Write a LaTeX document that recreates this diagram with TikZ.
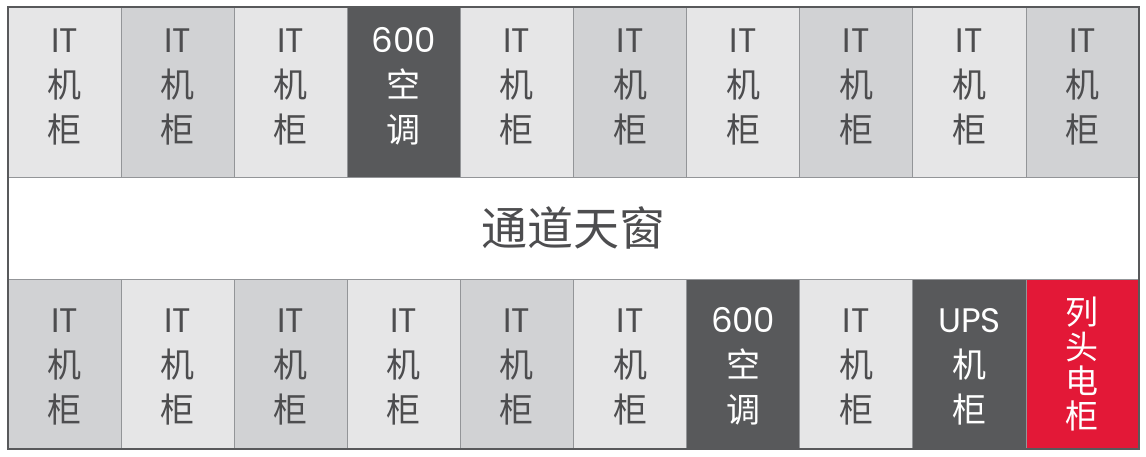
\documentclass[tikz,border=0pt]{standalone}
\usepackage{fontspec}
\setmainfont{Poppins}
\newfontfamily\cjk{Noto Sans CJK SC}
\definecolor{rackA}{HTML}{E6E6E7}
\definecolor{rackB}{HTML}{D1D2D4}
\definecolor{acgray}{HTML}{58595B}
\definecolor{pdured}{HTML}{E31837}
\definecolor{inkgray}{HTML}{4D4D4F}
\definecolor{linegray}{HTML}{939598}

\begin{document}
\begin{tikzpicture}
    [x=1pt,y=-1pt,
     cell/.style={rectangle,draw=linegray,line width=0.8pt,minimum width=113.1pt,minimum height=170pt,
       inner sep=0pt,align=center,text=inkgray,font=\fontsize{34}{45}\selectfont},
     lite/.style={cell,fill=rackA},
     mid/.style={cell,fill=rackB},
     dark/.style={cell,fill=acgray,text=white},
     pdu/.style={cell,fill=pdured,text=white,font=\fontsize{33}{34.5}\selectfont},
     uprow/.style={text height=110pt,text depth=9pt},
     lowrow/.style={text height=124pt,text depth=7pt}]
    \useasboundingbox (0,0) rectangle (1146,456);
    % top row
    \node[lite,uprow] (t1) at (64.55,92) {IT\\\cjk 机\\\cjk 柜};
    \node[mid,uprow] (t2) at (177.65,92) {IT\\\cjk 机\\\cjk 柜};
    \node[lite,uprow] (t3) at (290.75,92) {IT\\\cjk 机\\\cjk 柜};
    \node[dark,uprow] (t4) at (403.85,92) {600\\\cjk 空\\\cjk 调};
    \node[lite,uprow] (t5) at (516.95,92) {IT\\\cjk 机\\\cjk 柜};
    \node[mid,uprow] (t6) at (630.05,92) {IT\\\cjk 机\\\cjk 柜};
    \node[lite,uprow] (t7) at (743.15,92) {IT\\\cjk 机\\\cjk 柜};
    \node[mid,uprow] (t8) at (856.25,92) {IT\\\cjk 机\\\cjk 柜};
    \node[lite,uprow] (t9) at (969.35,92) {IT\\\cjk 机\\\cjk 柜};
    \node[mid,uprow] (t10) at (1082.45,92) {IT\\\cjk 机\\\cjk 柜};
    % aisle
    \node[rectangle,draw=linegray,line width=0.8pt,fill=white,minimum width=1131pt,minimum height=102pt,
      text=inkgray,font=\fontsize{46}{46}\selectfont\cjk] (aisle) at (573.5,228) {通道天窗};
    % bottom row
    \node[mid,lowrow] (b1) at (64.55,364) {IT\\\cjk 机\\\cjk 柜};
    \node[lite,lowrow] (b2) at (177.65,364) {IT\\\cjk 机\\\cjk 柜};
    \node[mid,lowrow] (b3) at (290.75,364) {IT\\\cjk 机\\\cjk 柜};
    \node[lite,lowrow] (b4) at (403.85,364) {IT\\\cjk 机\\\cjk 柜};
    \node[mid,lowrow] (b5) at (516.95,364) {IT\\\cjk 机\\\cjk 柜};
    \node[lite,lowrow] (b6) at (630.05,364) {IT\\\cjk 机\\\cjk 柜};
    \node[dark,lowrow] (b7) at (743.15,364) {600\\\cjk 空\\\cjk 调};
    \node[lite,lowrow] (b8) at (856.25,364) {IT\\\cjk 机\\\cjk 柜};
    \node[dark,lowrow] (b9) at (969.35,364) {UPS\\\cjk 机\\\cjk 柜};
    \node[pdu] (b10) at (1082.45,364) {\cjk 列\\\cjk 头\\\cjk 电\\\cjk 柜};
    % frame
    \draw[acgray,line width=2pt] (t1.north west) rectangle (b10.south east);
  \end{tikzpicture}
\end{document}
